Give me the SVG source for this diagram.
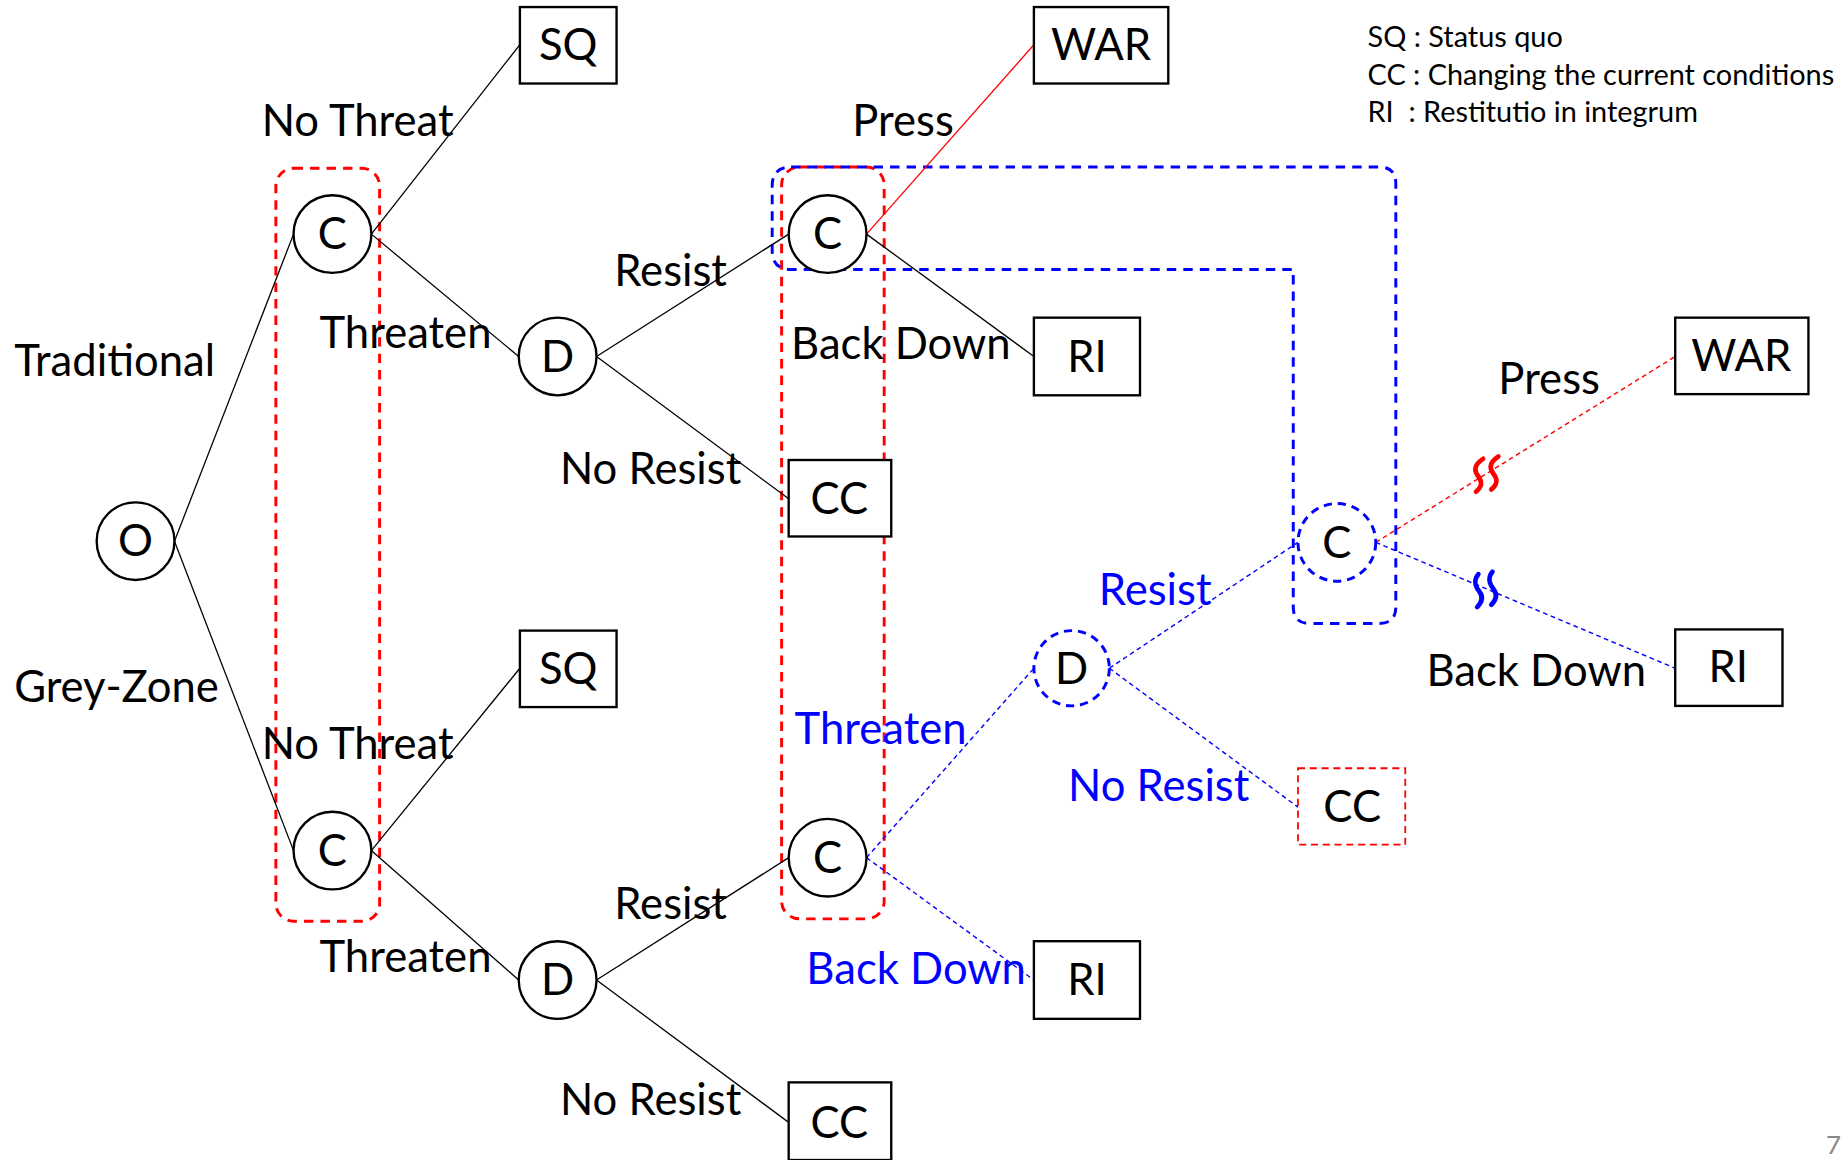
<svg xmlns="http://www.w3.org/2000/svg" width="1845" height="1160" viewBox="0 0 1845 1160">
<style>
text{font-family:Lato,"Liberation Sans",sans-serif;font-size:37px;fill:#000}
.blue{fill:#0000ff}
.leg{font-size:24.5px}
.ctr{text-anchor:middle}
.node{fill:#fff;stroke:#000;stroke-width:2}
.dnode{fill:#fff;stroke:#0000ff;stroke-width:2.5;stroke-dasharray:7 5}
.box{fill:#fff;stroke:#000;stroke-width:2}
.edge{stroke:#000;stroke-width:1.1;fill:none}
.redge{stroke:#ff0000;stroke-width:1.1;fill:none}
.bdot{stroke:#0000ff;stroke-width:1.2;stroke-dasharray:4 3;fill:none}
.rdot{stroke:#ff0000;stroke-width:1.2;stroke-dasharray:4 3;fill:none}
.rgrp{fill:none;stroke:#ff0000;stroke-width:2.5;stroke-dasharray:8 6}
.bgrp{fill:none;stroke:#0000ff;stroke-width:2.5;stroke-dasharray:8 6}
.sq{fill:none;stroke-width:4;stroke-linecap:round}
</style>
<rect width="1845" height="1160" fill="#fff"/>
<g transform="scale(1.1789,1.1765)">
<g id="groups">
<rect x="234" y="143" width="88" height="640" rx="15" class="rgrp"/>
<rect x="663" y="142" width="87" height="639" rx="15" class="rgrp"/>
<path d="M671,142 H1170 Q1184,142 1184,156 V516 Q1184,530 1170,530 H1111 Q1097,530 1097,516 V229 H671 Q655,229 655,213 V158 Q655,142 671,142 Z" class="bgrp"/>
</g>
<g id="connectors">
<line x1="148" y1="460" x2="249" y2="199" class="edge"/>
<line x1="148" y1="460" x2="249" y2="723" class="edge"/>
<line x1="315" y1="199" x2="441" y2="38" class="edge"/>
<line x1="315" y1="199" x2="440" y2="303" class="edge"/>
<line x1="506" y1="303" x2="669" y2="199" class="edge"/>
<line x1="506" y1="303" x2="669" y2="424" class="edge"/>
<line x1="735" y1="199" x2="877" y2="38" class="redge"/>
<line x1="735" y1="199" x2="877" y2="303" class="edge"/>
<line x1="315" y1="723" x2="441" y2="568" class="edge"/>
<line x1="315" y1="723" x2="440" y2="833" class="edge"/>
<line x1="506" y1="833" x2="669" y2="729" class="edge"/>
<line x1="506" y1="833" x2="669" y2="954" class="edge"/>
<line x1="735" y1="729" x2="877" y2="568" class="bdot"/>
<line x1="735" y1="729" x2="877" y2="833" class="bdot"/>
<line x1="941" y1="568" x2="1101" y2="461" class="bdot"/>
<line x1="941" y1="568" x2="1101" y2="686" class="bdot"/>
<line x1="1167" y1="461" x2="1421" y2="303" class="rdot"/>
<line x1="1167" y1="461" x2="1421" y2="568" class="bdot"/>
<g stroke="#ff0000" class="sq">
<path d="M1258,390 C1249,396 1251,401 1254,405 C1257,409 1258,413 1252,418"/>
<path d="M1271,388 C1262,394 1264,399 1267,403 C1270,407 1271,411 1265,416"/>
</g>
<g stroke="#0000ff" class="sq">
<path d="M1254,488 C1249,494 1252,499 1255,503 C1258,507 1258,511 1253,516"/>
<path d="M1266,486 C1261,492 1264,497 1267,501 C1270,505 1270,509 1265,514"/>
</g>
</g>
<g id="node-O"><circle cx="115" cy="460" r="33" class="node"/><text x="115" y="473" class="ctr">O</text></g>
<g id="node-C1"><circle cx="282" cy="199" r="33" class="node"/><text x="282" y="212" class="ctr">C</text></g>
<g id="node-D1"><circle cx="473" cy="303" r="33" class="node"/><text x="473" y="316" class="ctr">D</text></g>
<g id="node-C2"><circle cx="702" cy="199" r="33" class="node"/><text x="702" y="212" class="ctr">C</text></g>
<g id="node-C3"><circle cx="282" cy="723" r="33" class="node"/><text x="282" y="736" class="ctr">C</text></g>
<g id="node-D2"><circle cx="473" cy="833" r="33" class="node"/><text x="473" y="846" class="ctr">D</text></g>
<g id="node-C4"><circle cx="702" cy="729" r="33" class="node"/><text x="702" y="742" class="ctr">C</text></g>
<g id="node-D3"><circle cx="909" cy="568" r="32" class="dnode"/><text x="909" y="581" class="ctr">D</text></g>
<g id="node-C5"><circle cx="1134" cy="461" r="33" class="dnode"/><text x="1134" y="474" class="ctr">C</text></g>
<g id="box-SQ1"><rect x="441" y="6" width="82" height="65" class="box"/><text x="482" y="51" class="ctr">SQ</text></g>
<g id="box-WAR1"><rect x="877" y="6" width="114" height="65" class="box"/><text x="934" y="51" class="ctr">WAR</text></g>
<g id="box-RI1"><rect x="877" y="270" width="90" height="66" class="box"/><text x="922" y="316" class="ctr">RI</text></g>
<g id="box-CC1"><rect x="669" y="391" width="87" height="65" class="box"/><text x="712" y="437" class="ctr">CC</text></g>
<g id="box-SQ2"><rect x="441" y="536" width="82" height="65" class="box"/><text x="482" y="581" class="ctr">SQ</text></g>
<g id="box-RI2"><rect x="877" y="800" width="90" height="66" class="box"/><text x="922" y="846" class="ctr">RI</text></g>
<g id="box-CC2"><rect x="669" y="920" width="87" height="66" class="box"/><text x="712" y="967" class="ctr">CC</text></g>
<g id="box-WAR2"><rect x="1421" y="270" width="113" height="65" class="box"/><text x="1477" y="315" class="ctr">WAR</text></g>
<g id="box-RI3"><rect x="1421" y="535" width="91" height="65" class="box"/><text x="1466" y="580" class="ctr">RI</text></g>
<g id="box-CC3"><rect x="1101" y="653" width="91" height="65" fill="#fff" stroke="#ff0000" stroke-width="1.5" stroke-dasharray="6 4"/><text x="1147" y="699" class="ctr">CC</text></g>
<g id="labels">
<text x="222" y="116">No Threat</text>
<text x="271" y="296">Threaten</text>
<text x="12" y="320">Traditional</text>
<text x="12" y="597">Grey-Zone</text>
<text x="222" y="645">No Threat</text>
<text x="271" y="826">Threaten</text>
<text x="521" y="243">Resist</text>
<text x="475" y="411">No Resist</text>
<text x="723" y="116">Press</text>
<text x="671" y="305">Back Down</text>
<text x="521" y="781">Resist</text>
<text x="475" y="948">No Resist</text>
<text x="674" y="632" class="blue">Threaten</text>
<text x="684" y="836" class="blue">Back Down</text>
<text x="932" y="514" class="blue">Resist</text>
<text x="906" y="681" class="blue">No Resist</text>
<text x="1271" y="335">Press</text>
<text x="1210" y="583">Back Down</text>
</g>
<g id="legend">
<text x="1160" y="40" class="leg">SQ : Status quo</text>
<text x="1160" y="72" class="leg">CC : Changing the current conditions</text>
<text x="1160" y="104" class="leg" xml:space="preserve">RI  : Restitutio in integrum</text>
</g>
<text x="1549" y="981" style="font-size:22px;fill:#888">7</text>
</g>
</svg>
